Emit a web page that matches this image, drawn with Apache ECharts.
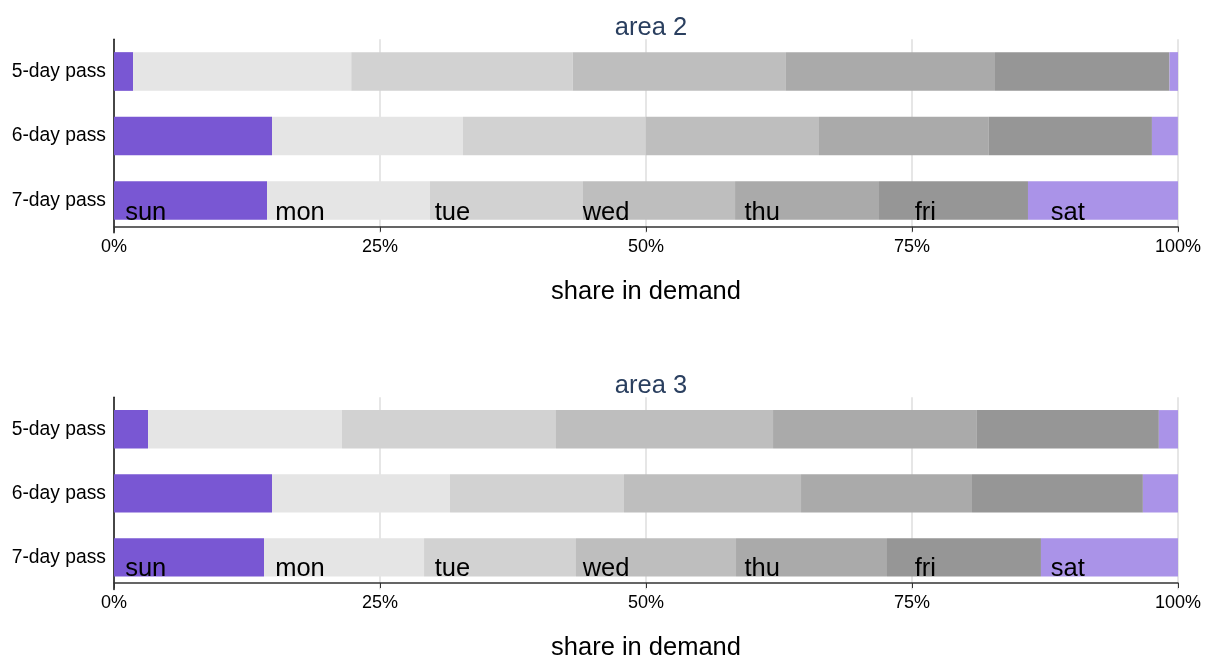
<!DOCTYPE html>
<html>
<head>
<meta charset="utf-8">
<script src="https://cdn.jsdelivr.net/npm/echarts@6/dist/echarts.min.js"></script>
<style>
  body{margin:0;background:#fff;}
  #main{width:1212px;height:662px;}
</style>
</head>
<body>
<div id="main"></div>
<script>
// passes (y categories)
var passes = ['5-day pass', '6-day pass', '7-day pass'];
var days = ['sun', 'mon', 'tue', 'wed', 'thu', 'fri', 'sat'];
var dayColors = ['#7957d3', '#e5e5e5', '#d2d2d2', '#bebebe', '#aaaaaa', '#969696', '#aa93e8'];
var xTicks = [0, 25, 50, 75, 100];

// share in demand (%) per pass, area 2
var a2_sun = [1.8, 14.85, 14.38];
var a2_mon = [20.5, 17.95, 15.32];
var a2_tue = [20.8, 17.17, 14.38];
var a2_wed = [20.0, 16.29, 14.29];
var a2_thu = [19.7, 15.96, 13.53];
var a2_fri = [16.4, 15.33, 14.0];
var a2_sat = [0.8, 2.44, 14.1];

// area 3
var a3_sun = [3.2, 14.85, 14.1];
var a3_mon = [18.23, 16.73, 15.04];
var a3_tue = [20.11, 16.35, 14.28];
var a3_wed = [20.4, 16.64, 15.04];
var a3_thu = [19.16, 16.07, 14.19];
var a3_fri = [17.1, 16.06, 14.47];
var a3_sat = [1.8, 3.3, 12.88];

// where the day names sit on the 7-day bar (x in %)
var dayLabelX = [1, 15.1, 30.1, 44, 59.2, 75.2, 88];

var area2 = [a2_sun, a2_mon, a2_tue, a2_wed, a2_thu, a2_fri, a2_sat];
var area3 = [a3_sun, a3_mon, a3_tue, a3_wed, a3_thu, a3_fri, a3_sat];

var font = 'Liberation Sans, Arial, sans-serif';

function xAxisOf(idx, off){
  return {
    type: 'value', gridIndex: idx, min: xTicks[0], max: xTicks[xTicks.length-1], interval: 25,
    offset: off,
    name: 'share in demand', nameLocation: 'middle', nameGap: 52,
    nameTextStyle: {fontSize: 25.5, color: '#000', fontFamily: font},
    axisLine: {show: true, lineStyle: {color: '#333', width: 1.5}},
    axisTick: {show: true, length: 5, lineStyle: {color: '#333'}},
    axisLabel: {formatter: '{value}%', fontSize: 18, color: '#000', margin: 11, fontFamily: font},
    splitLine: {show: true, lineStyle: {color: '#dedede', width: 1.5}}
  };
}
function yAxisOf(idx){
  return {
    type: 'category', gridIndex: idx, data: passes, inverse: true,
    axisLine: {show: true, lineStyle: {color: '#111', width: 1.5}},
    axisTick: {show: false},
    axisLabel: {fontSize: 19.3, color: '#000', margin: 8, fontFamily: font, padding: [4, 0, 0, 0]}
  };
}

var series = [];
function addArea(vals, idx){
  for (var i = 0; i < days.length; i++) {
    series.push({
      name: days[i], type: 'bar', stack: 'a' + idx,
      xAxisIndex: idx, yAxisIndex: idx,
      barWidth: '60%',
      itemStyle: {color: dayColors[i]},
      data: vals[i]
    });
  }
  // day names over the 7-day pass bar
  var lab = [];
  for (var j = 0; j < days.length; j++) {
    lab.push({value: [dayLabelX[j], passes[2]], name: days[j]});
  }
  series.push({
    type: 'scatter', xAxisIndex: idx, yAxisIndex: idx,
    symbolSize: 1, itemStyle: {color: 'rgba(0,0,0,0)'},
    z: 5,
    label: {
      show: true, position: 'right', distance: 0, offset: [0, 12],
      formatter: '{b}', fontSize: 25.5, color: '#000', fontFamily: font,
      textBorderWidth: 0, opacity: 1
    },
    data: lab
  });
}
addArea(area2, 0);
addArea(area3, 1);

var chart = echarts.init(document.getElementById('main'));
var option = {
  animation: false,
  backgroundColor: '#fff',
  title: [
    {text: 'area 2', left: 646, top: 10, textAlign: 'center',
     textStyle: {fontSize: 25.5, fontWeight: 'normal', color: '#2a3f5f', fontFamily: font}},
    {text: 'area 3', left: 646, top: 368, textAlign: 'center',
     textStyle: {fontSize: 25.5, fontWeight: 'normal', color: '#2a3f5f', fontFamily: font}}
  ],
  grid: [
    {left: 114, right: 34, top: 39.25, height: 193.5},
    {left: 114, right: 34, top: 397.3, height: 193.4}
  ],
  xAxis: [xAxisOf(0, -6), xAxisOf(1, -6.4)],
  yAxis: [yAxisOf(0), yAxisOf(1)],
  series: series
};
chart.setOption(option, true);
</script>
</body>
</html>
